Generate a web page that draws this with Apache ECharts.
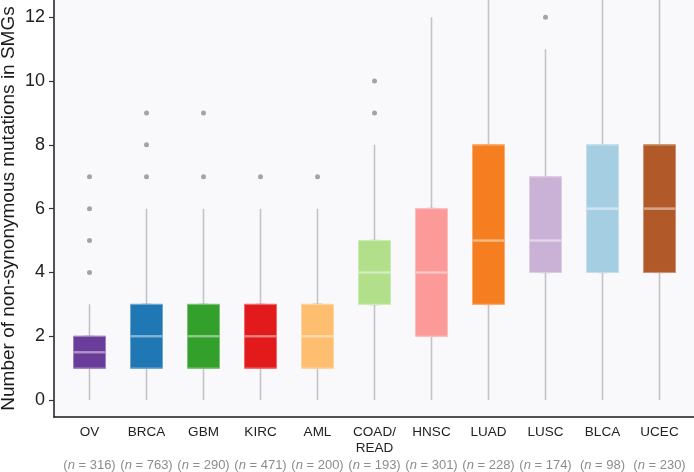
<!DOCTYPE html>
<html>
<head>
<meta charset="utf-8">
<script src="https://cdn.jsdelivr.net/npm/echarts@6/dist/echarts.min.js"></script>
<style>
html,body{margin:0;padding:0;background:#ffffff;}
#chart{width:694px;height:472px;}
</style>
</head>
<body>
<div id="chart"></div>
<script>
// ---- data ----
const categories = ['OV','BRCA','GBM','KIRC','AML','COAD/READ','HNSC','LUAD','LUSC','BLCA','UCEC'];
const sampleCounts = [316,763,290,471,200,193,301,228,174,98,230];
const whiskerLow  = [0,0,0,0,0,0,0,0,0,0,0];
const q1          = [1,1,1,1,1,3,2,3,4,4,4];
const median      = [1.5,2,2,2,2,4,4,5,5,6,6];
const q3          = [2,3,3,3,3,5,6,8,7,8,8];
const whiskerHigh = [3,6,6,6,6,8,12,15.5,11,14,14];
const outliers = [
  [0,4],[0,5],[0,6],[0,7],
  [1,7],[1,8],[1,9],
  [2,7],[2,9],
  [3,7],
  [4,7],
  [5,9],[5,10],
  [8,12]
];
const yTicks = [0,2,4,6,8,10,12];
const colors = ['#6a3d9a','#1f78b4','#33a02c','#e31a1c','#fdbf6f','#b2df8a','#fb9a99','#f57f20','#cab2d6','#a6cee3','#b15928'];

// ---- helpers ----
function mix(hex, t){ // blend with white
  const r=parseInt(hex.slice(1,3),16), g=parseInt(hex.slice(3,5),16), b=parseInt(hex.slice(5,7),16);
  const f=v=>Math.round(v+(255-v)*t);
  return 'rgb('+f(r)+','+f(g)+','+f(b)+')';
}
const yMin = -0.53, yMax = 12.54;
const font = 'Liberation Sans, Arial, Helvetica, sans-serif';

const chart = echarts.init(document.getElementById('chart'), null, {renderer:'canvas'});
chart.setOption({
  animation:false,
  backgroundColor:'#ffffff',
  textStyle:{fontFamily:font},
  grid:[
    {left:54,right:0,top:0,bottom:55,show:true,backgroundColor:'#f9f9fb',borderWidth:0,containLabel:false,outerBoundsMode:'none'},
    {left:61,right:6,top:0,bottom:55,containLabel:false,outerBoundsMode:'none'}
  ],
  xAxis:[
    {gridIndex:0,type:'value',min:0,max:1,
     axisLine:{show:true,onZero:false,lineStyle:{color:'#1a1a1a',width:1.5}},
     axisTick:{show:false},axisLabel:{show:false},splitLine:{show:false}},
    {gridIndex:1,type:'category',data:categories,boundaryGap:true,
     axisLine:{show:false},axisTick:{show:false},splitLine:{show:false},
     axisLabel:{
       interval:0,margin:7,
       formatter:function(v,i){
         const parts = v.indexOf('/')>=0 ? [v.slice(0,v.indexOf('/')+1), v.slice(v.indexOf('/')+1)] : [v,' '];
         return '{c|'+parts[0]+'}\n{c|'+parts[1]+'}\n{n|(}{ni|n}{n| = '+sampleCounts[i]+')}';
       },
       rich:{
         c:{fontSize:13.5,color:'#222222',lineHeight:16.5,fontFamily:font},
         n:{fontSize:13,color:'#8c8c8c',lineHeight:16.5,fontFamily:font},
         ni:{fontSize:13,color:'#8c8c8c',lineHeight:16.5,fontStyle:'italic',fontFamily:font}
       }
     }}
  ],
  yAxis:[
    {gridIndex:0,type:'value',min:yMin,max:yMax,
     name:'Number of non-synonymous mutations in SMGs',nameLocation:'middle',nameGap:36,nameMoveOverlap:false,
     nameTextStyle:{fontSize:19,color:'#1a1a1a',fontFamily:font},
     axisLine:{show:true,onZero:false,lineStyle:{color:'#1a1a1a',width:1.5}},
     axisTick:{show:true,length:5,customValues:yTicks,lineStyle:{color:'#333333',width:1.2}},
     axisLabel:{show:true,margin:9,customValues:yTicks,fontSize:18,color:'#222222',fontFamily:font},
     splitLine:{show:false}},
    {gridIndex:1,type:'value',min:yMin,max:yMax,show:false,splitLine:{show:false}}
  ],
  series:[
    {
      type:'candlestick',xAxisIndex:1,yAxisIndex:1,barWidth:8,z:2,
      itemStyle:{color:'transparent',color0:'transparent',borderColor:'#c3c3c8',borderColor0:'#c3c3c8',borderWidth:1.6},
      data:categories.map((c,i)=>[q1[i],q3[i],whiskerLow[i],whiskerHigh[i]])
    },
    {
      type:'boxplot',xAxisIndex:1,yAxisIndex:1,boxWidth:[32,32],z:3,
      data:categories.map((c,i)=>({
        value:[q1[i],q1[i],median[i],q3[i],q3[i]],
        itemStyle:{color:colors[i],borderColor:mix(colors[i],0.35),borderWidth:1}
      }))
    },
    {
      type:'scatter',xAxisIndex:1,yAxisIndex:1,symbol:'rect',symbolSize:[32,2.6],z:4,
      data:categories.map((c,i)=>({value:[i,median[i]],itemStyle:{color:mix(colors[i],0.5)}}))
    },
    {
      type:'scatter',xAxisIndex:1,yAxisIndex:1,symbol:'circle',symbolSize:5,z:4,
      itemStyle:{color:'#8f8f8f'},
      data:outliers
    }
  ]
});
</script>
</body>
</html>
